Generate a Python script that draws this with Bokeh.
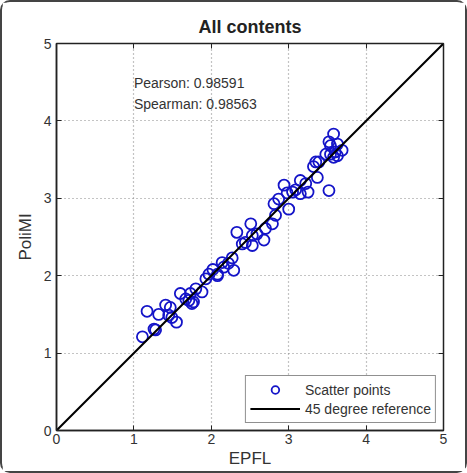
from bokeh.plotting import figure
from bokeh.models import Label, LinearAxis, Legend, LegendItem, FixedTicker
from bokeh.embed import file_html
from bokeh.resources import INLINE

# Data
epfl = [1.11, 1.17, 1.26, 1.28, 1.32, 1.41, 1.47, 1.45, 1.49, 1.55,
        1.60, 1.67, 1.71, 1.73, 1.75, 1.77, 1.80, 1.88, 1.93, 1.97,
        2.02, 2.08, 2.08, 2.14, 2.16, 2.22, 2.27, 2.29, 2.33, 2.40,
        2.44, 2.51, 2.53, 2.53, 2.59, 2.68, 2.70, 2.79, 2.83, 2.81,
        2.87, 2.94, 2.98, 3.00, 3.05, 3.09, 3.15, 3.15, 3.22, 3.25,
        3.32, 3.37, 3.39, 3.35, 3.48, 3.52, 3.54, 3.60, 3.58, 3.52,
        3.63, 3.54, 3.58, 3.63, 3.69]
polimi = [1.21, 1.54, 1.31, 1.30, 1.50, 1.62, 1.59, 1.49, 1.46, 1.40,
          1.77, 1.70, 1.68, 1.77, 1.64, 1.66, 1.83, 1.79, 1.96, 2.02,
          2.08, 2.02, 2.00, 2.17, 2.11, 2.16, 2.23, 2.07, 2.56, 2.41,
          2.43, 2.67, 2.52, 2.39, 2.54, 2.46, 2.61, 2.67, 2.78, 2.93,
          2.99, 3.17, 3.07, 2.86, 3.08, 3.11, 3.23, 3.06, 3.19, 3.08,
          3.41, 3.27, 3.47, 3.47, 3.57, 3.10, 3.68, 3.60, 3.83, 3.73,
          3.70, 3.57, 3.53, 3.55, 3.62]
ref_x = [0, 5]
ref_y = [0, 5]
ticks = [0, 1, 2, 3, 4, 5]
pearson_text = "Pearson: 0.98591"
spearman_text = "Spearman: 0.98563"

FONT = "Liberation Sans"

p = figure(width=467, height=473, x_range=(0, 5), y_range=(0, 5),
           output_backend="svg", toolbar_location=None,
           title="All contents", x_axis_label="EPFL", y_axis_label="PoliMI",
           min_border_left=54, min_border_right=26, min_border_top=41, min_border_bottom=45)

p.title.align = "center"
p.title.text_font = FONT
p.title.text_font_size = "18px"
p.title.text_font_style = "bold"
p.title.text_color = "#222222"
p.title.offset = 0
p.title.standoff = 13

p.outline_line_color = "#222222"
p.outline_line_width = 1.5
p.background_fill_color = "white"
p.border_fill_color = "white"

for ax in (p.xaxis[0], p.yaxis[0]):
    ax.ticker = FixedTicker(ticks=ticks)
    ax.major_tick_in = 5
    ax.major_tick_out = 0
    ax.minor_tick_in = 0
    ax.minor_tick_out = 0
    ax.axis_line_color = "#222222"
    ax.axis_line_width = 1.5
    ax.major_tick_line_color = "#222222"
    ax.major_label_text_font = FONT
    ax.major_label_text_font_size = "14px"
    ax.major_label_text_color = "#333333"
    ax.axis_label_text_font = FONT
    ax.axis_label_text_font_size = "17px"
    ax.axis_label_text_font_style = "normal"
    ax.axis_label_text_color = "#333333"
p.xaxis.major_label_standoff = 3
p.xaxis.axis_label_standoff = 2
p.yaxis.major_label_standoff = 5
p.yaxis.axis_label_standoff = 6

for side in ("above", "right"):
    a = LinearAxis(ticker=FixedTicker(ticks=ticks), major_tick_in=5, major_tick_out=0,
                   minor_tick_in=0, minor_tick_out=0,
                   major_label_overrides={t: "" for t in ticks},
                   major_label_standoff=0, major_label_text_font_size="1px",
                   axis_line_color="#222222", major_tick_line_color="#222222")
    p.add_layout(a, side)

p.xgrid.ticker = FixedTicker(ticks=ticks)
p.ygrid.ticker = FixedTicker(ticks=ticks)
for g in (p.xgrid[0], p.ygrid[0]):
    g.grid_line_color = "#888888"
    g.grid_line_dash = "1 3"
    g.grid_line_width = 1.2

sc = p.scatter(epfl, polimi, marker="circle", size=11, fill_color=None,
               line_color="#1414c8", line_width=1.8)
ln = p.line(ref_x, ref_y, line_color="black", line_width=2)

p.add_layout(Label(x=1.0, y=4.49, text=pearson_text, text_font=FONT, text_font_size="14px",
                   text_color="#333333", text_baseline="alphabetic"))
p.add_layout(Label(x=1.0, y=4.22, text=spearman_text, text_font=FONT, text_font_size="14px",
                   text_color="#333333", text_baseline="alphabetic"))

legend = Legend(items=[LegendItem(label="Scatter points", renderers=[sc]),
                       LegendItem(label="45 degree reference", renderers=[ln])],
                location="bottom_right", margin=7, padding=4, spacing=0,
                glyph_width=50, glyph_height=19, label_standoff=5,
                label_text_font=FONT, label_text_font_size="14px", label_text_color="#333333",
                border_line_color="#222222", border_line_width=1.2,
                background_fill_alpha=1.0)
p.add_layout(legend, "center")

p.styles = {"border": "2px solid #444444", "border-radius": "10px", "box-sizing": "border-box"}

open("out.html", "w").write(file_html(p, INLINE))
